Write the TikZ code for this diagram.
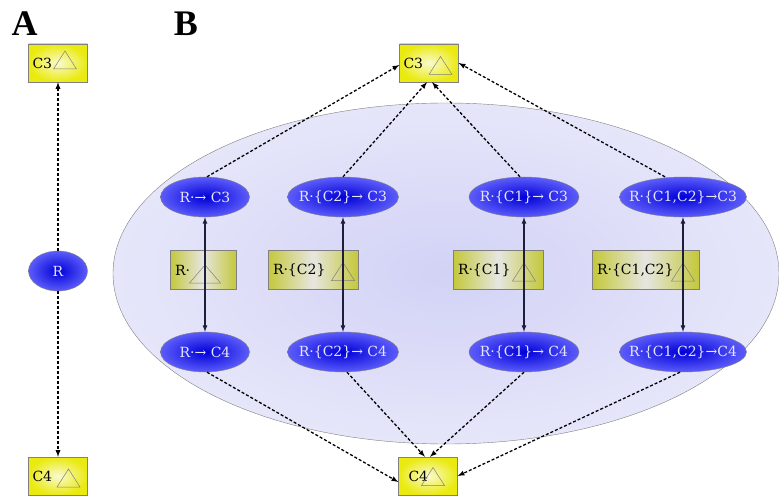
\documentclass[tikz,border=0pt]{standalone}
\usepackage{fontspec}
\setmainfont{DejaVu Serif}
\newfontfamily\headfont{Liberation Serif}
\usetikzlibrary{shapes.geometric}
\definecolor{hsyel}{HTML}{EAEA10}
\definecolor{hsyellt}{HTML}{FAFAD0}
\definecolor{hsolive}{HTML}{C4C83A}
\definecolor{hsolivelt}{HTML}{E6E6E2}
\definecolor{hsblue}{HTML}{0000D8}
\definecolor{hsbluelt}{HTML}{5C5CFA}
\definecolor{hsbluetxt}{HTML}{E6E6FF}
\definecolor{hscloud}{HTML}{D2D2F6}
\definecolor{hscloudlt}{HTML}{E6E6FA}
\definecolor{hsgray}{HTML}{808080}
\definecolor{hsnavy}{HTML}{1E1E3C}

\begin{document}
\begin{tikzpicture}[x=1pt, y=-1pt,
    font=\fontsize{14}{16}\selectfont,
    panel/.style={font=\headfont\bfseries\fontsize{36}{36}\selectfont, inner sep=0pt},
    setbox/.style={draw=hsgray, inner sep=4pt, minimum height=38pt, text width=51pt,
      align=left, shading=radial, inner color=hsyellt, outer color=hsyel},
    rulebox/.style={draw=hsgray, inner sep=5pt, minimum height=39pt, align=left,
      left color=hsolive, right color=hsolive, middle color=hsolivelt},
    gen/.style={ellipse, draw=hsgray, inner xsep=-12pt, inner ysep=0pt, minimum height=40pt,
      shading=radial, inner color=hsblue, outer color=hsbluelt, text=hsbluetxt},
    group/.style={ellipse, draw=hsgray, inner sep=0pt,
      shading=radial, inner color=hscloud, outer color=hscloudlt},
    dotarr/.style={-latex, line width=1.3pt, dash pattern=on 3pt off 2pt},
    solarr/.style={-latex, draw=hsnavy, line width=1.2pt},
    tri/.pic={\draw[draw=hsgray, line width=0.5pt] (-11.5,9) -- (0,-9) -- (11.5,9) -- cycle;}]
  \useasboundingbox (0,0) rectangle (779,497);

  \node[panel] (pa) at (24.5,24) {A};
  \node[panel] (pb) at (186,24) {B};

  % A: one rule between the two sets
  \node[setbox] (a3) at (58,63) {C3};
  \pic at (65,60) {tri};
  \node[gen, minimum width=59pt] (r) at (58,271) {R};
  \node[setbox] (a4) at (58,476) {C4};
  \pic at (68.5,478) {tri};
  \draw[dotarr] (r) -- (a3);
  \draw[dotarr] (r) -- (a4);

  % B: the rule split up by context
  \node[group, minimum width=666pt, minimum height=341pt] (grp) at (446,273.5) {};
  \node[setbox] (b3) at (429,63) {C3};
  \pic at (440.5,65.5) {tri};
  \node[setbox] (b4) at (428,476) {\hspace*{6pt}C4};
  \pic at (433,476.5) {tri};

  \node[gen, minimum width=89pt]  (u1) at (205,197) {R·→ C3};
  \node[gen, minimum width=111pt] (u2) at (343,197) {R·\{C2\}→ C3};
  \node[gen, minimum width=110pt] (u3) at (524,197) {R·\{C1\}→ C3};
  \node[gen, minimum width=127pt] (u4) at (683,197) {R·\{C1,C2\}→C3};

  \node[rulebox, text width=56pt] (m1) at (203,270) {R·};
  \node[rulebox, text width=80pt] (m2) at (313,270) {R·\{C2\}};
  \node[rulebox, text width=80pt] (m3) at (498,270) {R·\{C1\}};
  \node[rulebox, text width=97pt] (m4) at (645.5,270) {R·\{C1,C2\}};
  \coordinate (t1) at (205,274);
  \coordinate (t2) at (343,271.5);
  \coordinate (t3) at (524,272);
  \coordinate (t4) at (683,272);
  \pic[xscale=1.35] at (t1) {tri};
  \pic at (t2) {tri};
  \pic at (t3) {tri};
  \pic at (t4) {tri};

  \node[gen, minimum width=89pt]  (d1) at (205,352) {R·→ C4};
  \node[gen, minimum width=111pt] (d2) at (343,352) {R·\{C2\}→ C4};
  \node[gen, minimum width=110pt] (d3) at (524,352) {R·\{C1\}→ C4};
  \node[gen, minimum width=127pt] (d4) at (683,352) {R·\{C1,C2\}→C4};

  \foreach \i in {1,...,4} {
    \draw[solarr] (t\i) -- (u\i);
    \draw[solarr] (t\i) -- (d\i);
  }

  \draw[dotarr] ([xshift=2pt]u1.north) -- ([yshift=-2pt]b3.west);
  \draw[dotarr] (u2.north) -- ([xshift=-2pt]b3.south);
  \draw[dotarr] ([xshift=-4pt]u3.north) -- ([xshift=3pt]b3.south);
  \draw[dotarr] ([xshift=-18pt]u4.north) -- (b3.east);
  \draw[dotarr] ([xshift=2pt]d1.south) -- ([yshift=-6pt]b4.west);
  \draw[dotarr] ([xshift=4pt]d2.south) -- ([xshift=-3pt]b4.north);
  \draw[dotarr] (d3.south) -- ([xshift=2pt]b4.north);
  \draw[dotarr] ([xshift=-3pt]d4.south) -- (b4.east);
\end{tikzpicture}
\end{document}
